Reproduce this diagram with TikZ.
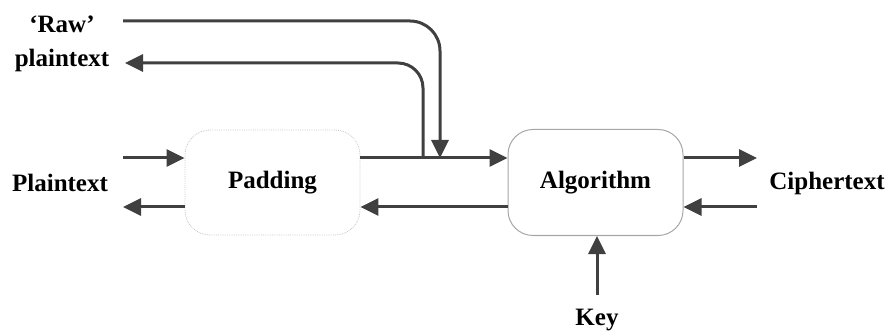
\documentclass[tikz,border=0pt]{standalone}
\usepackage{fontspec}
\setmainfont{Liberation Serif}
\usetikzlibrary{arrows.meta}
\definecolor{ln}{HTML}{404040}
\tikzset{
  arr/.style={draw=ln, line width=3pt, -{Triangle[length=18pt,width=17pt]}},
  lbl/.style={font=\fontsize{25}{34}\selectfont\bfseries, text=black, inner sep=0pt},
  boxa/.style={draw=gray!70, line width=1pt, rounded corners=25pt, minimum width=175pt, minimum height=106pt, inner sep=0pt},
  boxp/.style={draw=gray!45, densely dotted, line width=0.8pt, rounded corners=25pt, minimum width=175pt, minimum height=105pt, inner sep=0pt}
}
\begin{document}
\begin{tikzpicture}[x=1pt,y=-1pt]
\useasboundingbox (0,0) rectangle (886,331);
\node[boxp, lbl] (padding) at (272.5,182.5) {Padding};
\node[boxa, lbl] (algorithm) at (595.5,182.5) {Algorithm};
\node[lbl] (plain) at (60,183) {Plaintext};
\node[lbl] (cipher) at (827,183) {Ciphertext};
\node[lbl] (key) at (597,320) {Key};
\node[lbl, align=center] (raw) at (62,44) {‘Raw’\\plaintext};
\coordinate (pin) at (123,158);
\coordinate (pout) at (123,207);
\coordinate (cout) at (757,158);
\coordinate (cin) at (757,207);
\coordinate (k) at (597,295);
\coordinate (rin) at (123,21);
\coordinate (rout) at (125,63);
\coordinate (rdown) at (440,158);
\coordinate (rup) at (423,158);
\draw[arr] (pin) -- (pin -| padding.west);
\draw[arr] (pout -| padding.west) -- (pout);
\draw[arr] (pin -| padding.east) -- (pin -| algorithm.west);
\draw[arr] (pout -| algorithm.west) -- (pout -| padding.east);
\draw[arr] (cout -| algorithm.east) -- (cout);
\draw[arr] (cin) -- (cin -| algorithm.east);
\draw[arr] (k) -- (k |- algorithm.south);
\draw[arr, rounded corners=30pt] (rin) -- (rin -| rdown) -- (rdown);
\draw[arr, rounded corners=25pt] (rup) -- (rup |- rout) -- (rout);
\end{tikzpicture}
\end{document}
